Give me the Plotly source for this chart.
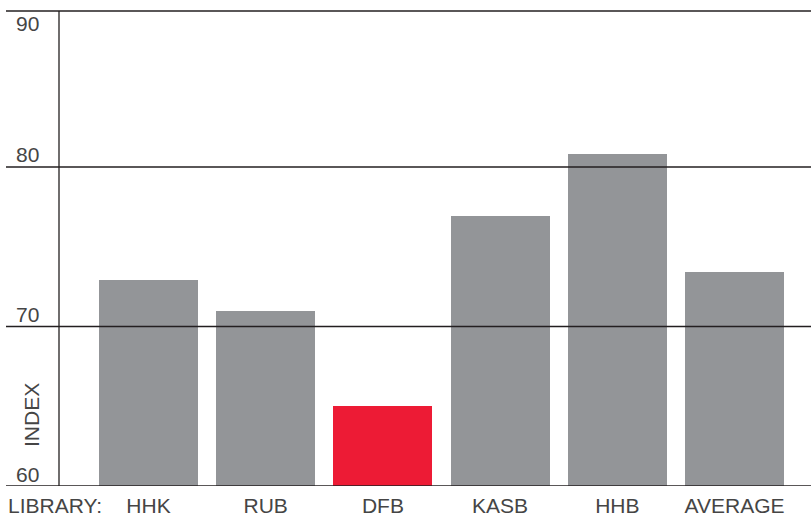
import plotly.graph_objects as go

categories = ["HHK", "RUB", "DFB", "KASB", "HHB", "AVERAGE"]
index_values = [72.9, 71.0, 65.0, 76.9, 80.8, 73.4]
highlight = "DFB"
y_ticks = [60, 70, 80, 90]
x_title = "LIBRARY:"
y_title = "INDEX"

GRAY = "#939598"
RED = "#ED1B35"
INK = "#231F20"
TXT = "#454545"
FONT = "Liberation Sans, Arial, sans-serif"
FS = 21

W, H = 811, 524
ML, MR, MT, MB = 59, 0, 11, 38
plot_w = W - ML - MR
plot_h = H - MT - MB
ymin, ymax = 60, 89.78

colors = [RED if c == highlight else GRAY for c in categories]
xs = list(range(len(categories)))

fig = go.Figure(go.Bar(
    x=xs, y=index_values, marker=dict(color=colors, line=dict(width=0)),
    width=0.845, hoverinfo="skip",
))

left_ext = (6 - ML) / plot_w
shapes = []
annotations = []
for t in y_ticks:
    if t <= ymax:
        shapes.append(dict(type="line", xref="paper", yref="y", x0=left_ext, x1=1,
                           y0=t, y1=t, line=dict(color=INK, width=1.3), layer="above"))
        annotations.append(dict(x=(14 - ML) / plot_w, xref="paper", y=t, yref="y",
                                text=str(t), showarrow=False, xanchor="left", yanchor="middle",
                                yshift=12, font=dict(family=FONT, size=FS, color=TXT)))
    else:
        shapes.append(dict(type="line", xref="paper", yref="paper", x0=left_ext, x1=1,
                           y0=1, y1=1, line=dict(color=INK, width=1.3), layer="above"))
        annotations.append(dict(x=(14 - ML) / plot_w, xref="paper", y=1, yref="paper",
                                text=str(t), showarrow=False, xanchor="left", yanchor="middle",
                                yshift=-12.5, font=dict(family=FONT, size=FS, color=TXT)))

# vertical axis line
shapes.append(dict(type="line", xref="paper", yref="paper", x0=0, x1=0, y0=0, y1=1,
                   line=dict(color=INK, width=1.3), layer="above"))

annotations.append(dict(x=(54.5 - ML) / plot_w, xref="paper", y=0, yref="paper",
                        text=x_title, showarrow=False, xanchor="center", yanchor="middle",
                        yshift=-19, font=dict(family=FONT, size=FS, color=TXT)))
annotations.append(dict(x=(31 - ML) / plot_w, xref="paper", y=ymin, yref="y",
                        text=y_title, showarrow=False, xanchor="center", yanchor="middle",
                        yshift=71, textangle=-90, font=dict(family=FONT, size=FS, color=TXT)))

x0 = -89.5 / 117.2
x1 = (W - ML - MR - 89.5) / 117.2

fig.update_layout(
    width=W, height=H,
    margin=dict(l=ML, r=MR, t=MT, b=MB),
    paper_bgcolor="white", plot_bgcolor="white",
    showlegend=False,
    bargap=0,
    xaxis=dict(range=[x0, x1], tickmode="array", tickvals=xs, ticktext=categories,
               showgrid=False, zeroline=False, showline=False, fixedrange=True,
               ticks="outside", ticklen=1, tickcolor="rgba(0,0,0,0)",
               tickfont=dict(family=FONT, size=FS, color=TXT)),
    yaxis=dict(range=[ymin, ymax], showgrid=False, zeroline=False, showline=False,
               showticklabels=False, ticks="", fixedrange=True),
    shapes=shapes,
    annotations=annotations,
)

fig.write_html("out.html", config={"displayModeBar": False},
               post_script="document.body.style.margin='0';document.body.style.padding='0';")
